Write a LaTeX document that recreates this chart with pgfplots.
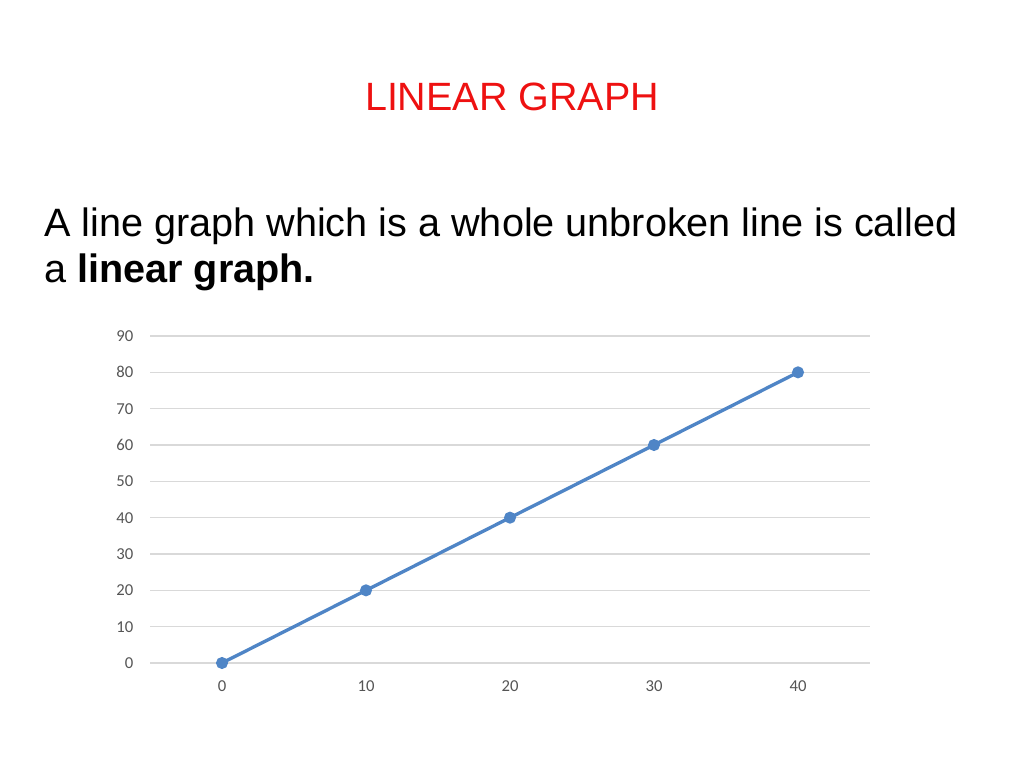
\documentclass[border=0pt]{standalone}
\usepackage{pgfplots}
\pgfplotsset{compat=1.18}
\usepackage{fontspec}
\setmainfont{Liberation Sans}
\newfontfamily\chartfont{Carlito}

\definecolor{titlered}{HTML}{EE1111}
\definecolor{lineblue}{HTML}{4F85C6}
\definecolor{gridgray}{HTML}{D9D9D9}
\definecolor{ticktext}{HTML}{555555}

\begin{document}
\begin{tikzpicture}
  % slide canvas, 1024 x 768 px at 0.75pt per px
  \path[use as bounding box, fill=white] (0,0) rectangle (768pt,576pt);

  \node[anchor=base, text=titlered, font=\fontsize{29.6}{32}\selectfont]
    at (384pt,492.75pt) {LINEAR GRAPH};
  \node[anchor=base west, inner sep=0pt, font=\fontsize{29.7}{32}\selectfont]
    at (33pt,398.25pt) {A line graph which is a whole unbroken line is called};
  \node[anchor=base west, inner sep=0pt, font=\fontsize{29.7}{32}\selectfont]
    at (33pt,363.75pt) {a \textbf{linear graph.}};

  \begin{axis}[
    at={(112.5pt,78.75pt)}, anchor=south west,
    scale only axis,
    width=540pt, height=245.25pt,
    xmin=-5, xmax=45,
    ymin=0, ymax=90,
    xtick={0,10,...,40},
    ytick={0,10,...,90},
    ymajorgrids,
    grid style={gridgray, line width=1pt},
    axis line style={draw=none},
    major tick length=0pt,
    /pgf/number format/assume math mode=true,
    tick label style={font=\chartfont\fontsize{12.5}{14}\selectfont, text=ticktext},
    yticklabel style={xshift=-9pt},
    xticklabel style={yshift=-10pt},
    clip=false,
  ]
    \addplot[lineblue, line width=2.5pt, mark=*, mark size=3.2pt,
             mark options={fill=lineblue, draw=lineblue}]
      coordinates {(0,0) (10,20) (20,40) (30,60) (40,80)};
  \end{axis}
\end{tikzpicture}
\end{document}
